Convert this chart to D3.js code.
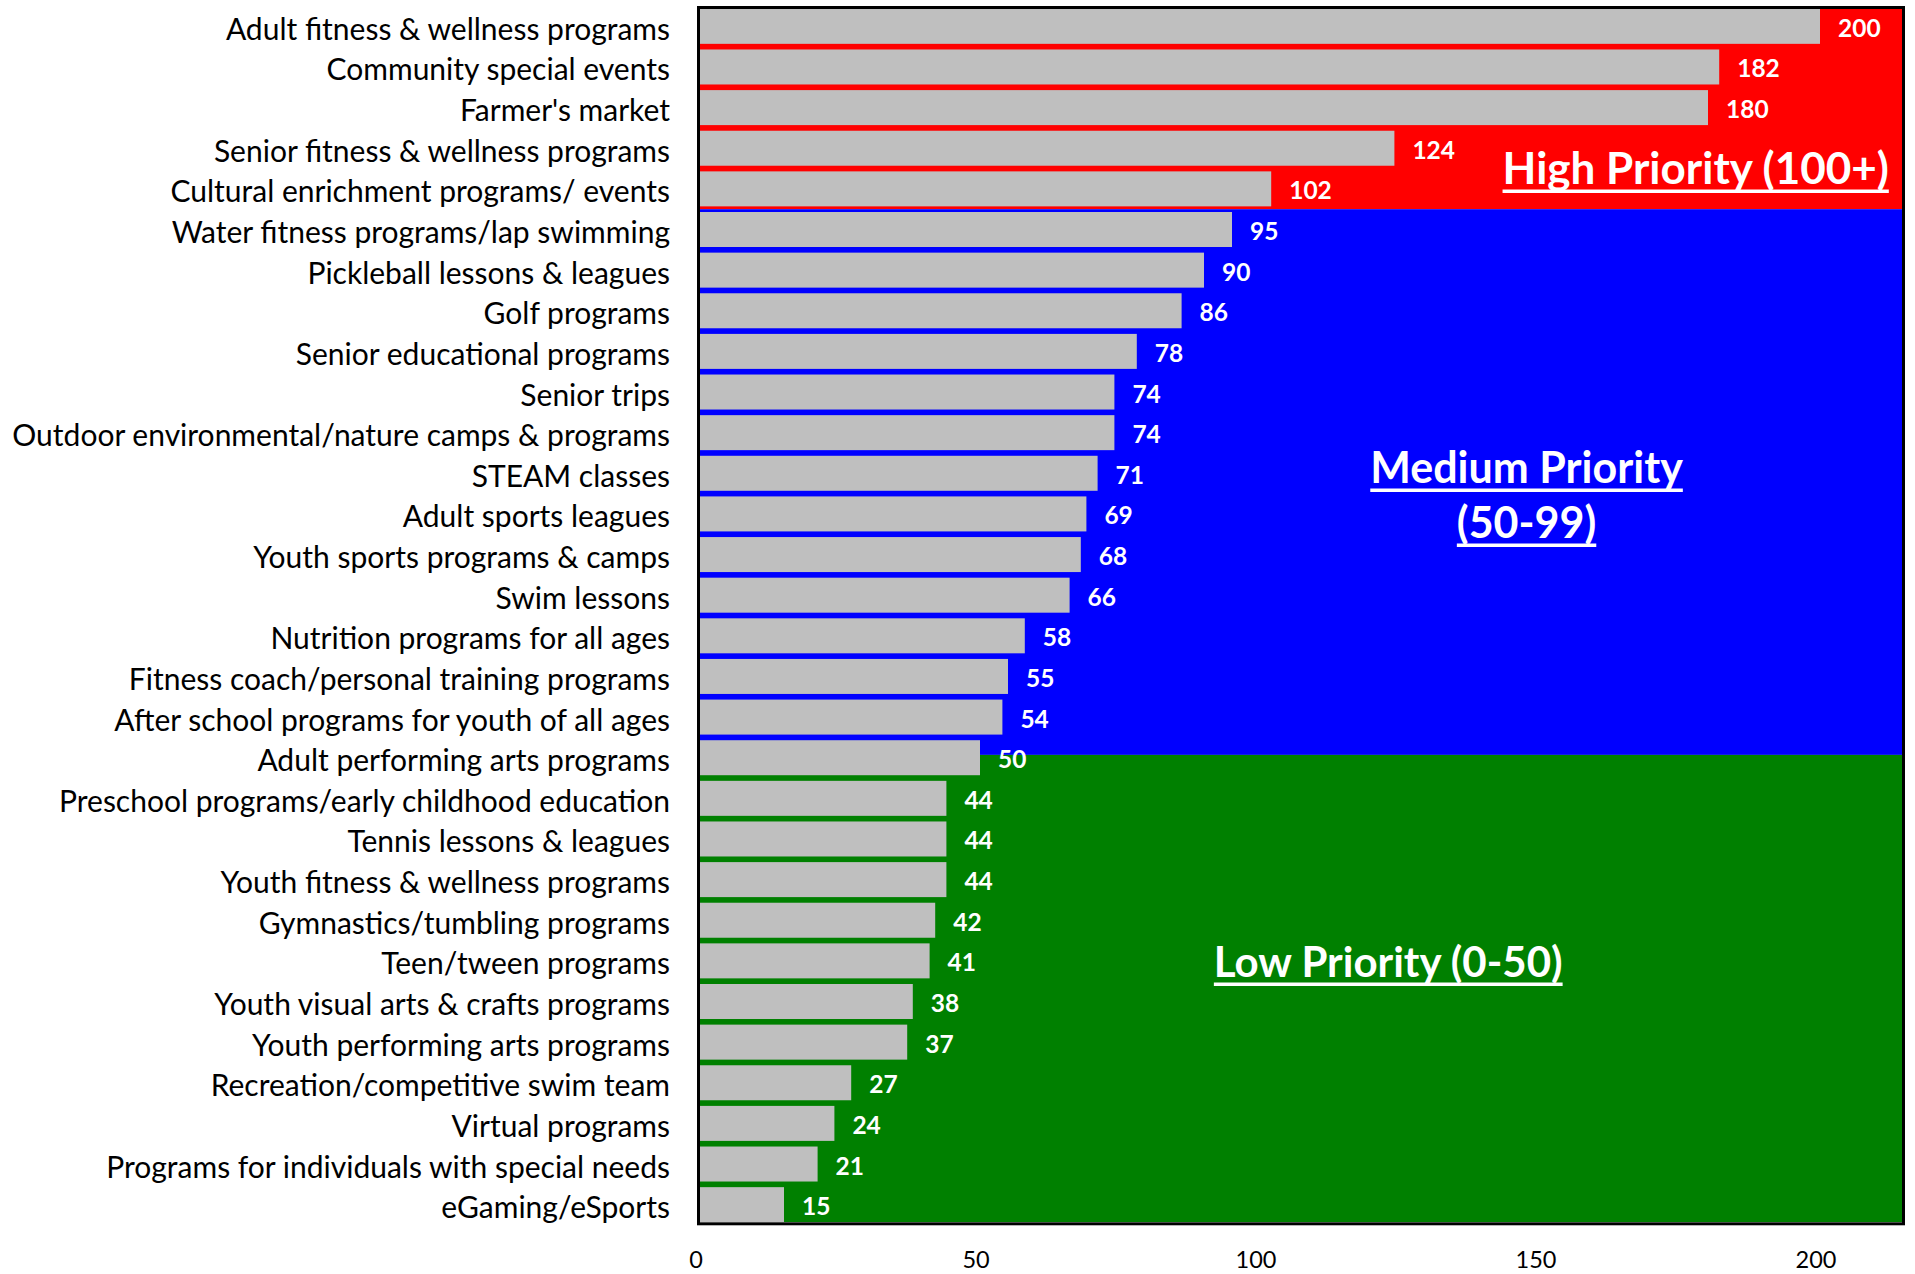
<!DOCTYPE html>
<html>
<head>
<meta charset="utf-8">
<script src="https://cdn.jsdelivr.net/npm/d3@7/dist/d3.min.js"></script>
<style>
  html, body { margin: 0; padding: 0; background: #ffffff; }
  svg { display: block; }
  text { font-family: Lato, "Open Sans", "DejaVu Sans", sans-serif; }
</style>
</head>
<body>
<svg id="chart" width="1915" height="1274"></svg>
<script>
// Program interest scores, highest first
const categories = [
  "Adult fitness & wellness programs",
  "Community special events",
  "Farmer's market",
  "Senior fitness & wellness programs",
  "Cultural enrichment programs/ events",
  "Water fitness programs/lap swimming",
  "Pickleball lessons & leagues",
  "Golf programs",
  "Senior educational programs",
  "Senior trips",
  "Outdoor environmental/nature camps & programs",
  "STEAM classes",
  "Adult sports leagues",
  "Youth sports programs & camps",
  "Swim lessons",
  "Nutrition programs for all ages",
  "Fitness coach/personal training programs",
  "After school programs for youth of all ages",
  "Adult performing arts programs",
  "Preschool programs/early childhood education",
  "Tennis lessons & leagues",
  "Youth fitness & wellness programs",
  "Gymnastics/tumbling programs",
  "Teen/tween programs",
  "Youth visual arts & crafts programs",
  "Youth performing arts programs",
  "Recreation/competitive swim team",
  "Virtual programs",
  "Programs for individuals with special needs",
  "eGaming/eSports"
];
const values = [200, 182, 180, 124, 102, 95, 90, 86, 78, 74, 74, 71, 69, 68, 66,
                58, 55, 54, 50, 44, 44, 44, 42, 41, 38, 37, 27, 24, 21, 15];

const xTicks = [0, 50, 100, 150, 200];

// Priority tiers and their band colours
const tierColors = ["#FF0000", "#0000FF", "#008000"];
const highTitle = ["High Priority (100+)"];
const mediumTitle = ["Medium Priority", "(50-99)"];
const lowTitle = ["Low Priority (0-50)"];

const svg = d3.select("#chart");
const W = 1915, H = 1274;
svg.append("rect").attr("width", W).attr("height", H).attr("fill", "#ffffff");

const plot = { left: 700, right: 1902, top: 9, bottom: 1222 };

const x = d3.scaleLinear().domain([0, 215]).range([700, 1904]);
const y = d3.scaleBand().domain(categories).range([6, 1225])
  .paddingInner(0.1386).paddingOuter(0.07);
const bw = y.bandwidth();
const gap = y.step() - bw;

svg.append("clipPath").attr("id", "plotClip")
  .append("rect")
  .attr("x", plot.left).attr("y", plot.top)
  .attr("width", plot.right - plot.left).attr("height", plot.bottom - plot.top);

const inner = svg.append("g").attr("clip-path", "url(#plotClip)");

// Tier boundaries: below the last 100+ row, and through the row scoring 50
const firstMedium = values.findIndex(v => v < 100);
const firstLow = values.findIndex(v => v <= 50);
const b1 = y(categories[firstMedium]) - gap / 2;
const b2 = y(categories[firstLow]) + bw * 0.42;
const tierBands = [
  [plot.top - 3, b1],
  [b1, b2],
  [b2, plot.bottom + 3]
];
inner.selectAll("rect.tier").data(tierBands).join("rect")
  .attr("class", "tier")
  .attr("x", plot.left).attr("width", plot.right - plot.left)
  .attr("y", d => d[0]).attr("height", d => d[1] - d[0])
  .attr("fill", (d, i) => tierColors[i]);

// Bars
inner.selectAll("rect.bar").data(values).join("rect")
  .attr("class", "bar")
  .attr("x", x(0))
  .attr("y", (d, i) => y(categories[i]))
  .attr("width", d => x(d) - x(0))
  .attr("height", bw)
  .attr("fill", "#BFBFBF");

// Value labels
inner.selectAll("text.val").data(values).join("text")
  .attr("class", "val")
  .attr("x", d => x(d) + 18)
  .attr("y", (d, i) => y(categories[i]) + bw / 2 + 10.5)
  .attr("fill", "#ffffff")
  .attr("font-weight", "bold")
  .attr("font-size", "24.5px")
  .text(d => d);

// Tier titles, underlined
function title(lines, xv, y0, lineGap, size) {
  const g = svg.append("g");
  lines.forEach((t, i) => {
    const yy = y0 + i * lineGap;
    const tx = g.append("text")
      .attr("x", x(xv)).attr("y", yy)
      .attr("text-anchor", "middle")
      .attr("fill", "#ffffff")
      .attr("font-weight", "bold")
      .attr("font-size", size + "px")
      .text(t);
    const w = tx.node().getComputedTextLength();
    g.append("rect")
      .attr("x", x(xv) - w / 2).attr("y", yy + 5.5)
      .attr("width", w).attr("height", 3.5)
      .attr("fill", "#ffffff");
  });
}
title(highTitle, 177.8, 184, 0, 44);
title(mediumTitle, 147.6, 483, 55, 43);
title(lowTitle, 122.9, 977, 0, 42);

// Frame
svg.append("rect")
  .attr("x", 698.5).attr("y", 7.5)
  .attr("width", 1205).attr("height", 1216.3)
  .attr("fill", "none").attr("stroke", "#000000").attr("stroke-width", 3);

// Category axis
const yAxis = svg.append("g")
  .attr("transform", `translate(${plot.left},0)`)
  .call(d3.axisLeft(y).tickSize(0).tickPadding(30));
yAxis.select(".domain").remove();
yAxis.selectAll("text")
  .attr("dy", "0.45em")
  .attr("fill", "#000000")
  .style("font-family", "Lato, 'Open Sans', sans-serif")
  .style("font-size", "30px");

// Value axis
const xAxis = svg.append("g")
  .attr("transform", `translate(-4.5,1225)`)
  .call(d3.axisBottom(x).tickValues(xTicks).tickSize(0).tickPadding(26.3));
xAxis.select(".domain").remove();
xAxis.selectAll("text")
  .attr("fill", "#000000")
  .style("font-family", "Lato, 'Open Sans', sans-serif")
  .style("font-size", "23.5px");
</script>
</body>
</html>
